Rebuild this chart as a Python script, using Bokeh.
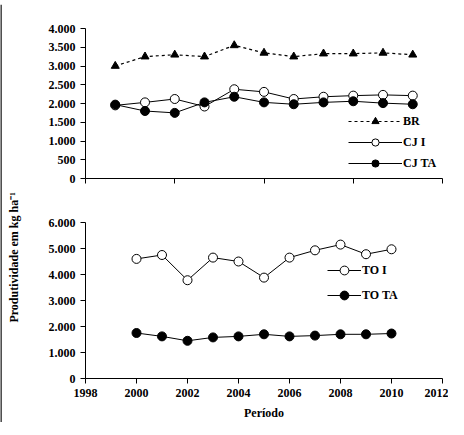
from bokeh.embed import file_html
from bokeh.resources import INLINE
from bokeh.plotting import figure
from bokeh.layouts import row, column
from bokeh.models import (Range1d, FixedTicker, CustomJSTickFormatter, Legend,
                          LegendItem, Label, Span)

FONT = "Liberation Serif"

# top panel (11 periods on an unlabeled 0-12 axis)
top_x = [1, 2, 3, 4, 5, 6, 7, 8, 9, 10, 11]
br = [3000, 3250, 3300, 3250, 3550, 3350, 3250, 3330, 3330, 3350, 3300]
cj_i = [1950, 2030, 2120, 1920, 2380, 2310, 2120, 2180, 2210, 2230, 2210]
cj_ta = [1970, 1800, 1750, 2030, 2180, 2030, 1980, 2030, 2060, 2010, 1980]

# bottom panel
years = [2000, 2001, 2002, 2003, 2004, 2005, 2006, 2007, 2008, 2009, 2010]
to_i = [4600, 4750, 3780, 4650, 4500, 3880, 4650, 4930, 5150, 4780, 4970]
to_ta = [1750, 1620, 1450, 1580, 1620, 1700, 1620, 1650, 1700, 1700, 1730]

fmt = CustomJSTickFormatter(code="""
if (tick < 1000) return String(tick);
return Math.floor(tick/1000) + '.' + String(tick % 1000).padStart(3, '0');
""")


def style(p):
    p.outline_line_color = None
    p.xgrid.visible = False
    p.ygrid.visible = False
    for ax in (p.xaxis, p.yaxis):
        ax.major_tick_in = 0
        ax.major_tick_out = 5
        ax.major_tick_line_color = "black"
        ax.minor_tick_line_color = None
        ax.major_label_text_font = FONT
        ax.major_label_text_font_style = "bold"
        ax.major_label_text_font_size = "12px"
        ax.major_label_text_color = "black"
        ax.axis_line_color = "black"
    p.yaxis.formatter = fmt


def legend(p, items, loc, glyph_w, h):
    lg = Legend(items=items, location=loc, border_line_color=None,
                background_fill_alpha=0, label_text_font=FONT,
                label_text_font_style="bold", label_text_font_size="12px",
                label_text_color="black", glyph_width=glyph_w, glyph_height=h,
                label_height=h, spacing=3, label_standoff=1, padding=0, margin=0)
    p.add_layout(lg)


top = figure(width=426, height=186, x_range=Range1d(0, 12), y_range=Range1d(0, 4000),
             output_backend="svg", toolbar_location=None,
             min_border_left=63, min_border_right=6, min_border_top=24, min_border_bottom=12)
style(top)
top.xaxis.ticker = FixedTicker(ticks=[0, 3, 6, 9, 12])
top.xaxis.major_label_text_font_size = "0px"
top.yaxis.ticker = FixedTicker(ticks=list(range(0, 4001, 500)))
l1 = top.line(top_x, br, color="black", line_dash="3 3", line_width=1.2)
m1 = top.scatter(top_x, br, marker="triangle", size=8, color="black")
l2 = top.line(top_x, cj_i, color="black", line_width=1)
m2 = top.scatter(top_x, cj_i, marker="circle", size=9, fill_color="white", line_color="black")
l3 = top.line(top_x, cj_ta, color="black", line_width=1)
m3 = top.scatter(top_x, cj_ta, marker="circle", size=9, color="black")
legend(top, [LegendItem(label="BR", renderers=[l1, m1]),
             LegendItem(label="CJ I", renderers=[l2, m2]),
             LegendItem(label="CJ TA", renderers=[l3, m3])], (263, 6), 54, 18)

bot = figure(width=426, height=232, x_range=Range1d(1998, 2012), y_range=Range1d(0, 6000),
             output_backend="svg", toolbar_location=None,
             min_border_left=63, min_border_right=6, min_border_top=32, min_border_bottom=42,
             x_axis_label="Período")
style(bot)
bot.xaxis.ticker = FixedTicker(ticks=list(range(1998, 2013, 2)))
bot.yaxis.ticker = FixedTicker(ticks=list(range(0, 6001, 1000)))
bot.xaxis.axis_label_text_font = FONT
bot.xaxis.axis_label_text_font_style = "bold"
bot.xaxis.axis_label_text_font_size = "12px"
bot.xaxis.axis_label_text_color = "black"
bot.xaxis.axis_label_standoff = 6
l4 = bot.line(years, to_i, color="black", line_width=1)
m4 = bot.scatter(years, to_i, marker="circle", size=9, fill_color="white", line_color="black")
l5 = bot.line(years, to_ta, color="black", line_width=1)
m5 = bot.scatter(years, to_ta, marker="circle", size=9, color="black")
legend(bot, [LegendItem(label="TO I", renderers=[l4, m4]),
             LegendItem(label="TO TA", renderers=[l5, m5])], (242, 72), 34, 22)

lab = figure(width=22, height=418, x_range=Range1d(0, 1), y_range=Range1d(0, 1),
             output_backend="svg", toolbar_location=None, min_border=0)
lab.axis.visible = False
lab.grid.visible = False
lab.outline_line_color = None
lab.add_layout(Span(location=0.02, dimension="height", line_color="black", line_width=1.5))
lab.add_layout(Label(x=0.6, y=0.395, text="Produtividade em kg ha⁻¹", angle=1.5708,
                     text_align="center", text_baseline="middle", text_font=FONT,
                     text_font_style="bold", text_font_size="12px", text_color="black"))

# thin strip for the frame's top border
topline = figure(width=448, height=4, x_range=Range1d(0, 1), y_range=Range1d(0, 1),
                 output_backend="svg", toolbar_location=None, min_border=0)
topline.axis.visible = False
topline.grid.visible = False
topline.outline_line_color = None
topline.add_layout(Span(location=0.5, dimension="width", line_color="black", line_width=1.5))

p = column(topline, row(lab, column(top, bot, spacing=0), spacing=0), spacing=0)
open("out.html", "w").write(file_html(p, INLINE))
